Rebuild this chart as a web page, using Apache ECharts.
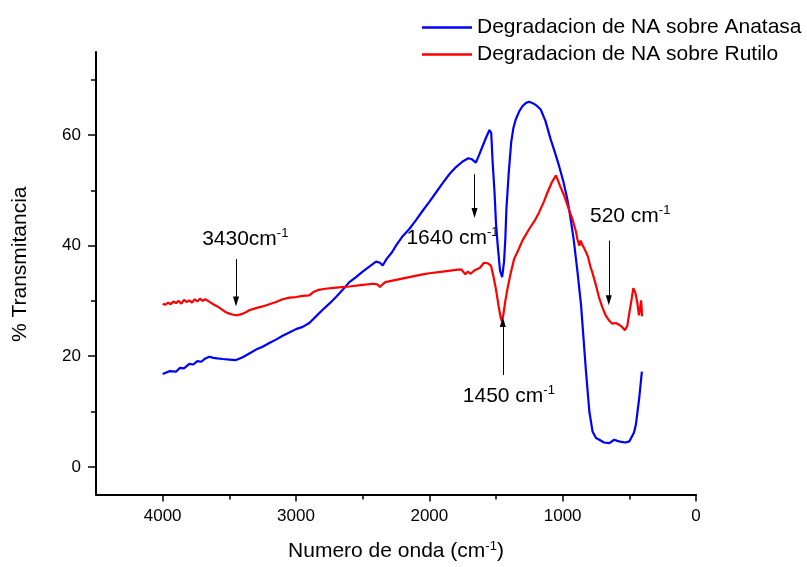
<!DOCTYPE html>
<html>
<head>
<meta charset="utf-8">
<script src="https://cdn.jsdelivr.net/npm/echarts@6/dist/echarts.min.js"></script>
<style>html,body{margin:0;padding:0;background:#fff}#c{width:807px;height:567px}</style>
</head>
<body>
<div id="c"></div>
<script>
// ---- Data ----
const seriesNames = ['Degradacion de NA sobre Anatasa', 'Degradacion de NA sobre Rutilo'];

const anataseWave = [4000,3950,3900,3870,3840,3800,3770,3740,3710,3680,3650,3620,3590,3550,3500,3450,3400,3350,3300,3250,3200,3150,3100,3050,3000,2950,2900,2850,2800,2750,2700,2650,2600,2550,2500,2450,2400,2370,2350,2320,2280,2250,2200,2150,2100,2050,2000,1950,1900,1850,1800,1750,1708,1680,1651,1625,1600,1575,1549,1536,1525,1511,1500,1487,1470,1454,1440,1430,1422,1405,1386,1370,1352,1325,1302,1275,1251,1220,1190,1165,1130,1090,1060,1027,995,965,940,918,890,862,825,800,776,750,725,690,650,613,590,560,530,500,488,465,451,426,406];
const anataseT    = [16.8,17.3,17.2,17.9,17.8,18.6,18.5,19.1,19.0,19.6,19.9,19.7,19.6,19.5,19.4,19.3,19.8,20.5,21.2,21.7,22.4,23.0,23.7,24.3,24.9,25.3,26.0,27.2,28.4,29.5,30.7,32.0,33.4,34.3,35.3,36.2,37.1,36.9,36.4,37.6,38.8,40.0,41.7,43.0,44.6,46.3,47.9,49.6,51.3,52.9,54.2,55.2,55.8,55.6,55.0,56.5,58.0,59.5,60.9,60.4,55.0,49.6,44.0,40.0,35.5,34.3,37.0,41.2,46.6,53.0,58.7,61.2,62.8,64.3,65.2,65.8,66.0,65.7,65.2,64.6,62.6,59.2,57.0,54.4,51.6,48.4,44.8,41.2,35.5,29.2,17.2,10.0,6.4,5.2,4.9,4.4,4.3,4.9,4.7,4.5,4.4,4.6,4.9,6.2,7.6,12.4,17.2];

const rutileWave = [4000,3980,3960,3940,3920,3900,3880,3860,3840,3820,3800,3780,3760,3740,3720,3700,3680,3660,3640,3620,3590,3560,3530,3500,3470,3440,3410,3380,3350,3300,3250,3200,3150,3100,3050,3000,2950,2900,2870,2830,2780,2700,2600,2500,2420,2390,2370,2355,2330,2250,2150,2050,2000,1900,1800,1760,1730,1710,1690,1663,1620,1590,1576,1560,1538,1520,1501,1480,1465,1456,1445,1430,1414,1390,1364,1340,1302,1251,1210,1177,1140,1114,1080,1050,1040,1020,990,960,927,900,890,875,865,850,840,828,810,790,778,750,728,700,678,650,628,600,578,555,533,515,503,485,470,463,455,441,428,420,412,408,405];
const rutileT    = [29.5,29.3,29.7,29.4,29.9,29.6,30.0,29.5,30.2,29.8,30.1,29.7,30.3,29.9,30.4,30.0,30.3,30.0,29.7,29.4,29.0,28.5,28.0,27.7,27.5,27.4,27.6,27.9,28.3,28.7,29.0,29.4,29.8,30.3,30.6,30.7,30.9,31.0,31.6,32.0,32.2,32.4,32.6,32.9,33.1,33.0,32.5,32.9,33.4,33.8,34.3,34.8,35.0,35.3,35.6,35.7,34.8,35.3,34.9,35.5,36.0,36.9,37.2,36.8,36.4,34.5,32.2,29.0,27.0,26.3,27.5,30.0,32.2,35.0,37.6,38.8,40.9,43.0,44.5,46.0,48.0,49.6,51.5,52.7,52.5,50.8,49.1,47.0,44.8,42.5,41.2,40.0,40.9,40.0,39.6,39.8,38.0,36.0,35.2,32.8,30.7,28.7,27.4,26.4,25.9,26.0,25.7,25.3,24.7,25.5,27.4,30.0,32.3,32.5,31.5,29.8,27.4,28.5,30.1,29.0,27.2];

// Axis ticks
const xMajorTicks = [0, 1000, 2000, 3000, 4000];
const xMinorTicks = [500, 1500, 2500, 3500];
const yMajorTicks = [0, 20, 40, 60];
const yMinorTicks = [10, 30, 50, 70];

// Annotations (data coordinates)
const annotNumber = ['3430', '1640', '520', '1450'];
const annotUnit   = ['cm', ' cm', ' cm', ' cm'];
const annotTextX  = [3704, 2172, 795, 1749];
const annotTextY  = [41.2, 41.3, 45.3, 12.8];
const arrowX      = [3450, 1661, 654, 1449];
const arrowFromY  = [37.6, 52.9, 40.9, 16.6];
const arrowToY    = [29.9, 45.9, 30.1, 26.2];

// ---- Chart ----
const FONT = '"Liberation Sans", Arial, sans-serif';
const chart = echarts.init(document.getElementById('c'), null, {renderer: 'canvas'});

const zip = (a, b) => a.map((v, i) => [v, b[i]]);

const richStyles = {
  n: {fontSize: 21, fontFamily: FONT, color: '#000', lineHeight: 24},
  s: {fontSize: 13, fontFamily: FONT, color: '#000', lineHeight: 13, verticalAlign: 'top'}
};

const option = {
  animation: false,
  backgroundColor: '#fff',
  grid: {left: 96, right: 111, top: 52, bottom: 71, containLabel: false},
  legend: {
    orient: 'vertical', left: 417, top: 12,
    itemWidth: 50, itemHeight: 14, itemGap: 6,
    icon: 'path://M0,6 L50,6 L50,8.5 L0,8.5 Z',
    data: seriesNames,
    textStyle: {fontSize: 21, fontFamily: FONT, color: '#000', lineHeight: 21},
    selectedMode: false
  },
  xAxis: [{
    type: 'value', inverse: true, min: 0, max: 4500,
    position: 'bottom',
    name: '{n|Numero de onda (cm}{s|-1}{n|)}', nameLocation: 'middle', nameGap: 45,
    nameTextStyle: {fontSize: 21, fontFamily: FONT, color: '#000', rich: richStyles},
    axisLine: {show: true, onZero: false, lineStyle: {color: '#000', width: 2}},
    axisTick: {show: true, customValues: xMajorTicks, length: 7, lineStyle: {color: '#000', width: 1.5}},
    axisLabel: {show: true, customValues: xMajorTicks, margin: 13, fontSize: 17, fontFamily: FONT, color: '#000', formatter: v => String(v)},
    splitLine: {show: false}
  }, {
    type: 'value', inverse: true, min: 0, max: 4500,
    position: 'bottom',
    axisLine: {show: false, onZero: false},
    axisTick: {show: true, customValues: xMinorTicks, length: 5, lineStyle: {color: '#000', width: 1.5}},
    axisLabel: {show: false},
    splitLine: {show: false}
  }],
  yAxis: [{
    type: 'value', min: -5, max: 75,
    position: 'left',
    name: '% Transmitancia', nameLocation: 'middle', nameGap: 65,
    nameTextStyle: {fontSize: 21, fontFamily: FONT, color: '#000', padding: [0, 0, 0, 18]},
    axisLine: {show: true, onZero: false, lineStyle: {color: '#000', width: 2}},
    axisTick: {show: true, customValues: yMajorTicks, length: 8, lineStyle: {color: '#000', width: 1.5}},
    axisLabel: {show: true, customValues: yMajorTicks, margin: 15, fontSize: 17, fontFamily: FONT, color: '#000', formatter: v => String(v)},
    splitLine: {show: false}
  }, {
    type: 'value', min: -5, max: 75,
    position: 'left',
    axisLine: {show: false, onZero: false},
    axisTick: {show: true, customValues: yMinorTicks, length: 5, lineStyle: {color: '#000', width: 1.5}},
    axisLabel: {show: false},
    splitLine: {show: false}
  }],
  series: [{
    type: 'line', name: seriesNames[0],
    data: zip(anataseWave, anataseT),
    symbol: 'none', showSymbol: false,
    lineStyle: {color: '#0000ff', width: 2.2},
    itemStyle: {color: '#0000ff'},
    silent: true
  }, {
    type: 'line', name: seriesNames[1],
    data: zip(rutileWave, rutileT),
    symbol: 'none', showSymbol: false,
    lineStyle: {color: '#ff0000', width: 2.2},
    itemStyle: {color: '#ff0000'},
    silent: true
  }, {
    type: 'scatter', name: 'annotations',
    data: annotTextX.map((x, i) => [x, annotTextY[i]]),
    symbolSize: 0,
    silent: true,
    itemStyle: {opacity: 1, color: '#000'},
    label: {
      show: true, position: 'right', distance: 0, color: '#000', opacity: 1,
      formatter: p => '{n|' + annotNumber[p.dataIndex] + annotUnit[p.dataIndex] + '}{s|-1}',
      rich: richStyles
    },
    markLine: {
      silent: true,
      symbol: ['none', 'triangle'],
      symbolSize: [6, 10],
      label: {show: false},
      lineStyle: {color: '#000', width: 1, type: 'solid', opacity: 1},
      itemStyle: {color: '#000'},
      data: arrowX.map((x, i) => [{coord: [x, arrowFromY[i]]}, {coord: [x, arrowToY[i]]}])
    }
  }]
};
chart.setOption(option);
</script>
</body>
</html>
